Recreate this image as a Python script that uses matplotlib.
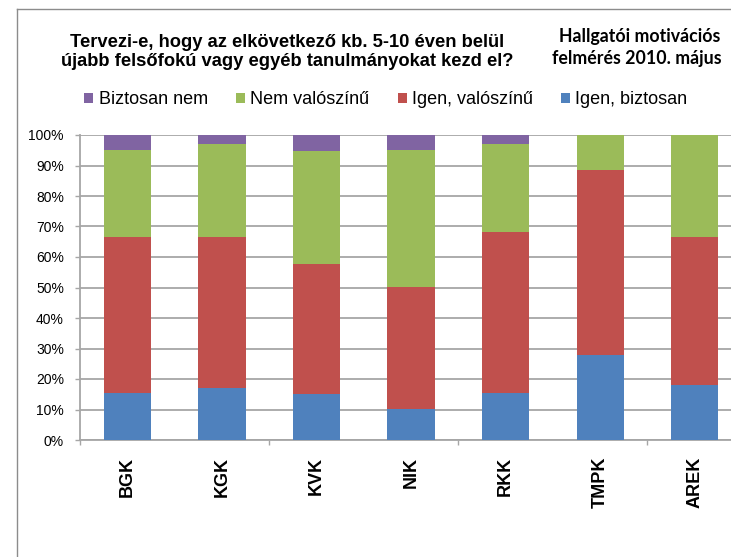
import matplotlib
matplotlib.use('Agg')
import matplotlib.pyplot as plt
from matplotlib.lines import Line2D
from matplotlib.ticker import FuncFormatter
import numpy as np

# ---- data ----
categories = ['BGK', 'KGK', 'KVK', 'NIK', 'RKK', 'TMPK', 'AREK']
igen_biztosan = [15.5, 16.9, 15.2, 10.3, 15.5, 27.8, 18.0]
igen_valoszinu = [51.2, 49.8, 42.5, 40.0, 52.6, 60.8, 48.7]
nem_valoszinu = [28.4, 30.3, 37.1, 44.8, 28.9, 11.4, 33.3]
biztosan_nem = [4.9, 3.0, 5.2, 4.9, 3.0, 0.0, 0.0]
series_names = ['Igen, biztosan', 'Igen, valószínű', 'Nem valószínű', 'Biztosan nem']
series_colors = ['#4F81BD', '#C0504D', '#9BBB59', '#8064A2']
y_ticks = [0, 10, 20, 30, 40, 50, 60, 70, 80, 90, 100]
title_lines = ['Tervezi-e, hogy az elkövetkező kb. 5-10 éven belül',
               'újabb felsőfokú vagy egyéb tanulmányokat kezd el?']
subtitle_lines = ['Hallgatói motivációs', 'felmérés 2010. május']

W, H = 731, 557
fig = plt.figure(figsize=(W / 100, H / 100), dpi=100)
fig.patch.set_facecolor('white')

# axes: left 80px, top 135px, bottom 440px, right beyond the image (cropped)
left, right, top, bottom = 80, 742, 135, 440
ax = fig.add_axes([left / W, 1 - bottom / H, (right - left) / W, (bottom - top) / H])

x = np.arange(len(categories))
series = [igen_biztosan, igen_valoszinu, nem_valoszinu, biztosan_nem]
base = np.zeros(len(categories))
bars = []
for vals, name, col in zip(series, series_names, series_colors):
    b = ax.bar(x, vals, width=0.5, bottom=base, color=col, label=name,
               edgecolor='none', zorder=3)
    bars.append(b)
    base = base + np.array(vals)

grid_col = '#a6a6a6'
ax.set_ylim(0, 100)
ax.set_xlim(-0.5, len(categories) - 0.5)
ax.set_yticks(y_ticks)
ax.yaxis.set_major_formatter(FuncFormatter(lambda v, p: f'{int(v)}%'))
ax.yaxis.grid(True, color=grid_col, linewidth=1.3, zorder=0)
ax.set_axisbelow(True)

for s in ['top', 'right']:
    ax.spines[s].set_visible(False)
for s in ['left', 'bottom']:
    ax.spines[s].set_color(grid_col)
    ax.spines[s].set_linewidth(1.3)

ax.tick_params(axis='y', direction='out', length=3.6, width=1, color=grid_col,
               pad=8, labelsize=10, labelcolor='black')
for lab in ax.get_yticklabels():
    lab.set_fontfamily('Liberation Sans')

ax.set_xticks(x)
ax.set_xticklabels(categories, rotation=90, fontsize=13, fontweight='bold',
                   fontfamily='Liberation Sans', va='top', ha='center')
ax.tick_params(axis='x', which='major', length=0, pad=12)
ax.set_xticks([-0.5, 1.5, 3.5, 5.5], minor=True)
ax.tick_params(axis='x', which='minor', direction='out', length=3.6, width=1,
               color=grid_col)

# chart-area border (left & top visible, rest cropped)
fig.add_artist(Line2D([17 / W, 17 / W], [0, 1 - 9 / H], transform=fig.transFigure,
                      color='#8c8c8c', linewidth=1))
fig.add_artist(Line2D([17 / W, 1], [1 - 9 / H, 1 - 9 / H], transform=fig.transFigure,
                      color='#8c8c8c', linewidth=1))

# titles
fig.text(287 / W, 1 - 47 / H, title_lines[0], ha='center', va='baseline',
         fontsize=13.2, fontweight='bold', fontfamily='Liberation Sans')
fig.text(287 / W, 1 - 66 / H, title_lines[1], ha='center', va='baseline',
         fontsize=13.2, fontweight='bold', fontfamily='Liberation Sans')
fig.text(720 / W, 1 - 42 / H, subtitle_lines[0], ha='right', va='baseline',
         fontsize=12.8, fontweight='bold', fontfamily='Lato')
fig.text(722 / W, 1 - 64 / H, subtitle_lines[1], ha='right', va='baseline',
         fontsize=12.8, fontweight='bold', fontfamily='Lato')

# legend (reverse order)
handles = [b.patches[0] for b in bars][::-1]
labels = series_names[::-1]
leg = fig.legend(handles, labels, loc='center', bbox_to_anchor=(386 / W, 1 - 100 / H),
                 ncol=4, frameon=False, handlelength=0.5,
                 handleheight=0.5, handletextpad=0.3, columnspacing=1.55,
                 prop={'family': 'Liberation Sans', 'size': 13})

fig.savefig('out.png', dpi=100)
